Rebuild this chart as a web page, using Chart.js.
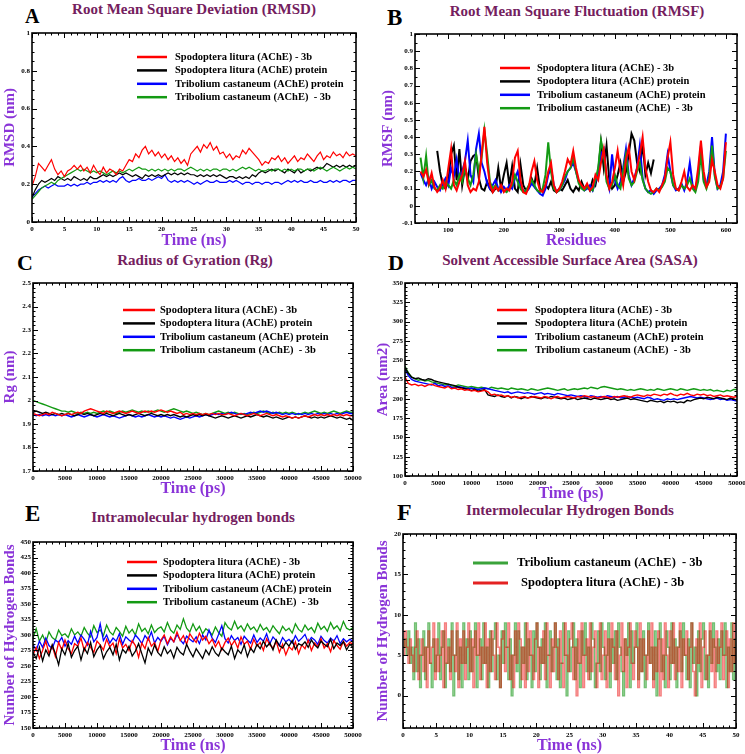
<!DOCTYPE html>
<html lang="en">
<head>
<meta charset="UTF-8" />
<title>MD simulation analysis</title>
<script src="https://cdn.jsdelivr.net/npm/chart.js"></script>
<style>
  body { margin: 0; background: #fff; font-family: "Liberation Serif", serif; }
  #fig { position: relative; width: 745px; height: 754px; overflow: hidden; background: #fff; }
  .letter { position: absolute; font-weight: bold; color: #000; line-height: 1; }
  .title { position: absolute; font-weight: bold; font-size: 15px; color: #74205e; white-space: nowrap; transform: translateX(-50%); line-height: 1; }
</style>
</head>
<body>
<div id="fig">
  <div class="letter" style="left:25px;top:6px;font-size:20px">A</div>
  <div class="title" style="left:194px;top:2px">Root Mean Square Deviation (RMSD)</div>
  <div class="letter" style="left:387px;top:6px;font-size:23px">B</div>
  <div class="title" style="left:577px;top:4px">Root Mean Square Fluctuation (RMSF)</div>
  <div class="letter" style="left:17px;top:252px;font-size:22px">C</div>
  <div class="title" style="left:195px;top:253px">Radius of Gyration (Rg)</div>
  <div class="letter" style="left:388px;top:252px;font-size:22px">D</div>
  <div class="title" style="left:570px;top:253px">Solvent Accessible Surface Area (SASA)</div>
  <div class="letter" style="left:25px;top:502px;font-size:23px">E</div>
  <div class="title" style="left:193px;top:510px">Intramolecular hydrogen bonds</div>
  <div class="letter" style="left:397px;top:500px;font-size:24px">F</div>
  <div class="title" style="left:570px;top:503px">Intermolecular Hydrogen Bonds</div>
</div>

<script>
  // ---- labels ----
  const slLigand = 'Spodoptera litura (AChE) - 3b';
  const slProtein = 'Spodoptera litura (AChE) protein';
  const tcProtein = 'Tribolium castaneum (AChE) protein';
  const tcLigand = 'Tribolium castaneum (AChE)  - 3b';

  // ---- A: RMSD (nm), time 0..50 ns every 0.5 ns ----
  const rmsdStep = 0.5;
  const rmsdSlLigand = [
    0.19,0.24,0.31,0.29,0.27,0.30,0.33,0.28,0.25,0.27,
    0.24,0.27,0.28,0.30,0.28,0.30,0.27,0.29,0.26,0.30,
    0.27,0.25,0.29,0.26,0.28,0.27,0.25,0.28,0.27,0.30,
    0.33,0.32,0.36,0.34,0.38,0.40,0.36,0.38,0.35,0.37,
    0.34,0.36,0.33,0.35,0.32,0.34,0.31,0.33,0.30,0.36,
    0.38,0.40,0.37,0.41,0.39,0.42,0.38,0.40,0.36,0.37,
    0.34,0.36,0.33,0.35,0.34,0.38,0.36,0.39,0.37,0.35,
    0.33,0.30,0.32,0.31,0.34,0.33,0.35,0.32,0.34,0.31,
    0.33,0.35,0.32,0.34,0.33,0.36,0.34,0.32,0.35,0.37,
    0.33,0.35,0.34,0.37,0.35,0.36,0.34,0.37,0.35,0.36,
    0.35];
  const rmsdSlProtein = [
    0.13,0.17,0.20,0.22,0.21,0.22,0.23,0.22,0.24,0.23,
    0.22,0.23,0.22,0.24,0.23,0.22,0.23,0.22,0.24,0.23,
    0.23,0.24,0.25,0.24,0.25,0.24,0.25,0.26,0.25,0.26,
    0.25,0.24,0.25,0.24,0.23,0.25,0.24,0.25,0.24,0.25,
    0.24,0.25,0.26,0.25,0.26,0.25,0.26,0.25,0.26,0.25,
    0.25,0.24,0.25,0.24,0.25,0.24,0.25,0.24,0.25,0.24,
    0.23,0.24,0.24,0.23,0.24,0.23,0.24,0.23,0.25,0.24,
    0.26,0.27,0.26,0.27,0.28,0.27,0.28,0.27,0.26,0.28,
    0.27,0.26,0.28,0.26,0.27,0.28,0.27,0.28,0.29,0.28,
    0.29,0.31,0.30,0.29,0.30,0.29,0.30,0.29,0.30,0.29,
    0.30];
  const rmsdTcProtein = [
    0.13,0.15,0.17,0.18,0.19,0.18,0.19,0.20,0.19,0.19,
    0.19,0.20,0.19,0.20,0.19,0.20,0.20,0.21,0.20,0.21,
    0.21,0.22,0.21,0.22,0.21,0.22,0.21,0.23,0.24,0.22,
    0.21,0.22,0.22,0.23,0.22,0.22,0.23,0.22,0.23,0.24,
    0.23,0.25,0.22,0.21,0.22,0.21,0.22,0.21,0.22,0.21,
    0.20,0.21,0.20,0.21,0.22,0.21,0.21,0.22,0.21,0.21,
    0.21,0.22,0.21,0.22,0.21,0.20,0.21,0.21,0.20,0.21,
    0.21,0.20,0.21,0.21,0.20,0.21,0.21,0.20,0.21,0.22,
    0.21,0.22,0.21,0.22,0.21,0.21,0.22,0.21,0.21,0.22,
    0.21,0.21,0.22,0.21,0.22,0.21,0.22,0.22,0.21,0.22,
    0.22];
  const rmsdTcLigand = [
    0.12,0.14,0.16,0.18,0.19,0.20,0.21,0.20,0.22,0.23,
    0.24,0.25,0.26,0.27,0.28,0.27,0.28,0.27,0.26,0.27,
    0.26,0.27,0.26,0.25,0.26,0.27,0.26,0.27,0.26,0.27,
    0.28,0.27,0.28,0.29,0.28,0.28,0.27,0.28,0.27,0.28,
    0.27,0.28,0.27,0.28,0.27,0.28,0.28,0.27,0.28,0.29,
    0.28,0.27,0.28,0.27,0.28,0.27,0.28,0.28,0.27,0.28,
    0.28,0.27,0.28,0.27,0.28,0.29,0.28,0.29,0.28,0.27,
    0.28,0.27,0.27,0.28,0.27,0.28,0.28,0.27,0.28,0.27,
    0.28,0.27,0.28,0.28,0.27,0.28,0.28,0.27,0.28,0.29,
    0.28,0.27,0.28,0.29,0.28,0.27,0.28,0.29,0.28,0.29,
    0.28];
  const rmsdXTicks = [0,5,10,15,20,25,30,35,40,45,50];
  const rmsdYTicks = [0,0.2,0.4,0.6,0.8,1];

  // ---- B: RMSF (nm) per residue, every 5 residues ----
  const rmsfStep = 5;
  const rmsfStart = 50;
  const rmsfSlProteinStart = 80;
  const rmsfSlLigand = [
    0.20,0.17,0.21,0.13,0.19,0.11,0.08,0.10,0.15,0.10,
    0.22,0.33,0.12,0.09,0.14,0.18,0.26,0.12,0.08,0.10,
    0.09,0.14,0.30,0.46,0.25,0.12,0.08,0.11,0.09,0.12,
    0.08,0.10,0.09,0.14,0.28,0.32,0.15,0.08,0.07,0.11,
    0.20,0.26,0.15,0.09,0.08,0.12,0.20,0.25,0.12,0.08,
    0.10,0.14,0.20,0.27,0.24,0.32,0.22,0.15,0.12,0.10,
    0.13,0.09,0.11,0.18,0.15,0.25,0.33,0.18,0.10,0.14,
    0.22,0.32,0.20,0.12,0.27,0.34,0.20,0.15,0.22,0.30,
    0.40,0.22,0.14,0.09,0.08,0.10,0.08,0.12,0.16,0.28,
    0.37,0.18,0.10,0.09,0.14,0.20,0.11,0.09,0.12,0.10,
    0.22,0.38,0.20,0.11,0.14,0.27,0.20,0.12,0.10,0.16,
    0.37];
  const rmsfSlProtein = [
    0.32,0.20,0.12,0.10,0.14,0.30,0.35,0.15,0.33,0.12,
    0.22,0.15,0.26,0.29,0.30,0.16,0.10,0.09,0.14,0.10,
    0.08,0.10,0.22,0.10,0.18,0.25,0.12,0.23,0.10,0.08,
    0.24,0.12,0.09,0.11,0.16,0.12,0.22,0.10,0.08,0.12,
    0.10,0.14,0.09,0.08,0.10,0.09,0.12,0.15,0.10,0.08,
    0.11,0.09,0.14,0.10,0.12,0.09,0.15,0.12,0.20,0.37,
    0.22,0.35,0.15,0.10,0.12,0.18,0.25,0.14,0.20,0.30,
    0.42,0.38,0.25,0.20,0.37,0.18,0.25,0.19,0.27];
  const rmsfTcProtein = [
    0.19,0.15,0.12,0.16,0.10,0.14,0.11,0.09,0.13,0.16,
    0.12,0.22,0.17,0.27,0.15,0.20,0.26,0.38,0.18,0.14,
    0.33,0.42,0.25,0.20,0.13,0.10,0.12,0.15,0.10,0.08,
    0.11,0.09,0.12,0.10,0.16,0.20,0.12,0.09,0.08,0.10,
    0.13,0.11,0.09,0.07,0.06,0.10,0.18,0.22,0.12,0.08,
    0.09,0.12,0.15,0.20,0.22,0.25,0.20,0.14,0.11,0.09,
    0.10,0.12,0.09,0.14,0.20,0.30,0.33,0.16,0.10,0.30,
    0.15,0.10,0.14,0.22,0.33,0.18,0.12,0.16,0.22,0.35,
    0.16,0.10,0.08,0.09,0.07,0.09,0.10,0.12,0.18,0.30,
    0.20,0.12,0.09,0.10,0.13,0.09,0.14,0.25,0.12,0.09,
    0.18,0.35,0.15,0.12,0.20,0.40,0.18,0.10,0.12,0.20,
    0.42];
  const rmsfTcLigand = [
    0.28,0.16,0.29,0.12,0.15,0.10,0.09,0.12,0.10,0.14,
    0.12,0.10,0.15,0.12,0.18,0.14,0.22,0.16,0.12,0.18,
    0.30,0.20,0.28,0.44,0.30,0.14,0.10,0.12,0.09,0.11,
    0.09,0.08,0.10,0.12,0.18,0.14,0.10,0.08,0.09,0.12,
    0.15,0.12,0.09,0.08,0.10,0.18,0.37,0.20,0.10,0.08,
    0.09,0.12,0.17,0.20,0.22,0.28,0.20,0.13,0.10,0.09,
    0.11,0.10,0.09,0.15,0.22,0.38,0.30,0.14,0.10,0.12,
    0.18,0.12,0.10,0.20,0.30,0.16,0.12,0.14,0.20,0.25,
    0.15,0.10,0.08,0.07,0.08,0.10,0.09,0.11,0.14,0.22,
    0.20,0.12,0.10,0.09,0.12,0.10,0.12,0.16,0.10,0.08,
    0.14,0.30,0.14,0.10,0.16,0.35,0.17,0.10,0.11,0.16,
    0.32];
  const rmsfXTicks = [100,200,300,400,500,600];
  const rmsfYTicks = [-0.1,0,0.1,0.2,0.3,0.4,0.5,0.6,0.7,0.8,0.9,1];

  // ---- C: Rg (nm), time 0..50000 ps every 500 ps ----
  const psStep = 500;
  const rgSlLigand = [
    1.945,1.94,1.935,1.94,1.945,1.94,1.95,1.945,1.94,1.935,
    1.94,1.945,1.94,1.945,1.95,1.945,1.955,1.96,1.965,1.96,
    1.955,1.95,1.945,1.955,1.95,1.945,1.95,1.955,1.95,1.945,
    1.95,1.955,1.95,1.945,1.95,1.955,1.95,1.955,1.95,1.955,
    1.96,1.955,1.95,1.955,1.95,1.945,1.95,1.94,1.945,1.94,
    1.945,1.94,1.945,1.94,1.945,1.94,1.945,1.94,1.945,1.94,
    1.94,1.945,1.94,1.935,1.94,1.945,1.94,1.935,1.94,1.945,
    1.94,1.935,1.94,1.945,1.94,1.935,1.94,1.935,1.93,1.935,
    1.93,1.925,1.93,1.925,1.93,1.935,1.93,1.935,1.94,1.935,
    1.94,1.935,1.94,1.935,1.94,1.935,1.94,1.935,1.94,1.935,
    1.935];
  const rgSlProtein = [
    1.95,1.955,1.95,1.945,1.95,1.945,1.94,1.945,1.94,1.945,
    1.94,1.945,1.94,1.935,1.94,1.945,1.94,1.945,1.94,1.935,
    1.94,1.945,1.94,1.945,1.94,1.935,1.94,1.945,1.94,1.935,
    1.94,1.935,1.94,1.945,1.94,1.935,1.94,1.945,1.94,1.935,
    1.94,1.935,1.94,1.935,1.94,1.935,1.93,1.935,1.93,1.935,
    1.94,1.935,1.94,1.935,1.94,1.935,1.93,1.925,1.93,1.935,
    1.93,1.925,1.93,1.935,1.93,1.925,1.93,1.935,1.93,1.935,
    1.94,1.935,1.93,1.935,1.93,1.925,1.93,1.925,1.92,1.925,
    1.93,1.925,1.93,1.925,1.93,1.935,1.93,1.925,1.93,1.925,
    1.93,1.925,1.93,1.935,1.93,1.925,1.93,1.925,1.92,1.925,
    1.915];
  const rgTcProtein = [
    1.94,1.935,1.94,1.935,1.94,1.935,1.94,1.935,1.94,1.935,
    1.94,1.935,1.93,1.935,1.94,1.935,1.93,1.935,1.94,1.935,
    1.93,1.935,1.94,1.935,1.93,1.935,1.93,1.925,1.93,1.935,
    1.94,1.935,1.93,1.935,1.93,1.935,1.94,1.935,1.93,1.935,
    1.93,1.935,1.93,1.925,1.93,1.925,1.92,1.925,1.93,1.925,
    1.93,1.935,1.93,1.935,1.94,1.935,1.94,1.945,1.94,1.945,
    1.94,1.945,1.95,1.945,1.94,1.945,1.94,1.945,1.95,1.945,
    1.95,1.955,1.95,1.955,1.95,1.945,1.95,1.945,1.94,1.945,
    1.94,1.945,1.94,1.945,1.94,1.945,1.94,1.945,1.94,1.945,
    1.94,1.945,1.94,1.945,1.94,1.945,1.94,1.945,1.95,1.945,
    1.945];
  const rgTcLigand = [
    2.0,1.995,1.99,1.985,1.98,1.975,1.97,1.965,1.96,1.955,
    1.955,1.95,1.955,1.95,1.945,1.95,1.945,1.95,1.945,1.95,
    1.945,1.95,1.955,1.95,1.955,1.95,1.945,1.95,1.955,1.95,
    1.955,1.96,1.955,1.95,1.955,1.95,1.955,1.95,1.955,1.96,
    1.955,1.95,1.955,1.96,1.965,1.96,1.955,1.95,1.955,1.95,
    1.945,1.95,1.945,1.94,1.945,1.94,1.945,1.95,1.955,1.95,
    1.945,1.95,1.945,1.95,1.945,1.94,1.945,1.94,1.945,1.95,
    1.945,1.95,1.955,1.95,1.945,1.95,1.945,1.95,1.945,1.95,
    1.945,1.95,1.945,1.94,1.945,1.95,1.945,1.95,1.955,1.95,
    1.945,1.95,1.945,1.95,1.955,1.95,1.945,1.95,1.955,1.95,
    1.95];
  const psXTicks = [0,5000,10000,15000,20000,25000,30000,35000,40000,45000,50000];
  const rgYTicks = [1.7,1.8,1.9,2,2.1,2.2,2.3,2.4,2.5];

  // ---- D: SASA (nm2), time 0..50000 ps every 500 ps ----
  const sasaSlLigand = [
    228,220,218,219,217,218,216,218,219,217,
    216,215,214,216,213,214,212,213,211,212,
    210,211,209,210,211,209,205,206,204,205,
    203,204,202,203,201,202,203,201,202,203,
    202,201,203,202,200,202,203,201,202,203,
    202,201,203,202,204,203,202,203,201,202,
    203,202,201,203,202,203,204,203,202,204,
    205,204,203,205,204,206,205,204,206,205,
    207,205,204,206,205,207,205,204,206,205,
    206,204,205,203,204,205,203,204,203,202,
    203];
  const sasaSlProtein = [
    240,233,228,226,227,225,224,226,225,223,
    222,221,220,219,218,217,215,214,213,212,
    211,212,210,211,212,205,204,203,205,203,
    202,204,201,203,202,200,202,201,203,202,
    201,200,202,201,203,202,201,200,201,199,
    200,201,199,200,201,200,199,201,200,199,
    200,201,199,200,198,199,200,201,199,200,
    199,198,197,196,198,197,196,197,195,197,
    196,197,195,196,195,198,197,199,200,201,
    200,202,201,200,202,201,200,199,201,200,
    198];
  const sasaTcProtein = [
    238,230,225,223,222,221,220,219,218,220,
    217,218,216,217,215,214,216,215,214,213,
    214,213,212,213,214,213,212,211,210,209,
    208,209,207,208,209,208,207,208,207,206,
    207,208,206,207,206,205,207,206,205,204,
    205,204,203,204,203,202,204,203,202,203,
    202,204,203,202,203,201,202,203,202,201,
    202,201,200,202,201,199,200,199,198,200,
    199,200,199,200,201,202,203,202,201,202,
    201,200,199,200,201,199,200,198,199,198,
    197];
  const sasaTcLigand = [
    242,234,228,226,224,225,223,224,222,221,
    220,219,218,219,217,216,218,217,216,215,
    216,215,214,215,214,213,215,214,213,214,
    213,212,214,213,212,213,212,211,213,212,
    211,212,213,214,213,212,211,212,213,211,
    212,213,212,213,214,213,215,214,213,215,
    216,215,214,213,212,213,212,211,212,211,
    212,213,212,211,212,211,213,212,211,212,
    213,212,211,213,212,211,212,213,212,211,
    212,211,212,210,211,210,209,211,210,212,
    212];
  const sasaYTicks = [100,125,150,175,200,225,250,275,300,325,350];

  // ---- E: intramolecular H-bonds, time 0..50000 every 500 ----
  const hbSlLigand = [
    268,280,262,275,290,270,283,265,288,276,
    292,278,270,286,282,295,275,288,280,272,
    290,284,276,293,281,287,270,294,279,285,
    275,291,283,264,287,278,296,282,288,274,
    292,300,286,297,289,305,291,299,285,302,
    294,288,303,292,298,286,293,281,290,276,
    288,295,283,291,279,297,285,290,277,293,
    282,288,275,294,284,279,290,272,285,268,
    281,276,289,270,284,278,292,275,287,281,
    294,279,286,273,291,283,277,290,282,288,
    285];
  const hbSlProtein = [
    272,262,280,258,276,266,284,270,252,278,
    268,286,264,275,282,260,279,270,288,265,
    276,283,262,273,280,268,285,260,277,271,
    282,266,274,286,270,255,279,268,284,272,
    266,281,270,276,263,280,272,268,285,274,
    265,278,270,262,276,268,281,271,266,279,
    273,268,282,262,276,270,284,265,279,272,
    285,278,290,281,287,276,292,283,279,288,
    282,291,277,286,283,289,280,292,284,279,
    290,285,281,293,278,287,283,289,276,285,
    280];
  const hbTcProtein = [
    285,275,290,280,295,283,278,292,288,296,
    282,291,285,298,287,300,293,284,306,289,
    296,318,291,300,287,295,290,302,285,297,
    292,288,300,294,286,299,292,305,287,296,
    290,298,284,295,289,301,292,286,298,293,
    289,297,286,300,292,308,295,288,301,315,
    294,287,299,291,296,285,298,292,287,300,
    288,295,290,302,286,297,291,283,296,289,
    293,287,299,290,295,301,288,296,292,285,
    298,291,287,295,290,299,286,294,289,293,
    290];
  const hbTcLigand = [
    295,310,290,300,288,305,296,292,308,299,
    302,296,310,300,305,298,312,303,297,315,
    304,308,299,316,305,300,312,306,298,314,
    303,309,300,318,306,311,302,316,304,310,
    313,305,320,308,303,316,309,326,311,305,
    318,307,314,302,310,306,300,313,304,298,
    320,312,308,322,310,315,306,318,309,313,
    305,317,308,312,304,315,308,302,314,307,
    311,303,318,309,305,316,308,312,304,319,
    309,314,306,320,310,315,307,322,311,308,
    312];
  const hbYTicks = [150,175,200,225,250,275,300,325,350,375,400,425,450];

  // ---- F: intermolecular H-bonds, time 0..50 ns every 0.25 ns ----
  const interStep = 0.25;
  const interTcLigand = [
    6,7,5,8,4,6,2,9,3,7,1,5,8,2,6,9,4,1,7,3,
    5,9,2,6,8,1,4,7,3,9,0,5,8,2,6,1,9,4,7,2,
    8,3,6,9,1,5,7,2,9,4,6,1,8,3,7,9,2,5,1,8,
    4,9,6,2,7,0,5,9,3,8,1,6,4,9,2,7,5,1,8,3,
    9,6,2,7,4,9,1,5,8,3,6,9,2,7,1,4,9,5,0,8,
    3,6,9,2,7,4,1,8,5,9,3,6,2,9,7,1,4,8,3,9,
    6,2,5,9,1,7,4,8,2,9,6,3,0,7,5,9,1,8,4,6,
    9,2,7,3,8,1,5,9,4,6,2,8,0,7,9,3,5,1,8,6,
    2,9,4,7,1,6,8,3,9,5,2,7,1,9,4,6,0,8,3,7,
    9,2,5,1,8,4,9,6,3,7,2,8,5,9,1,6,3,9,2,7,
    4];
  const interSlLigand = [
    5,8,6,4,7,5,3,6,8,2,5,7,3,6,1,8,4,6,9,2,
    7,3,5,8,1,9,4,6,2,8,5,3,9,1,7,4,8,2,6,9,
    3,7,1,8,5,9,2,6,4,9,1,7,3,8,5,2,9,6,1,7,
    8,3,6,9,2,5,1,8,4,9,7,2,6,1,9,3,8,5,2,7,
    9,1,6,4,8,2,9,5,1,7,3,9,6,2,8,4,1,9,5,3,
    7,9,2,6,0,8,4,9,1,5,7,2,9,3,6,8,1,4,9,2,
    5,8,1,7,3,9,6,2,8,0,5,9,3,7,1,6,9,4,2,8,
    6,1,9,3,7,5,2,8,4,9,1,6,3,8,0,7,2,9,5,1,
    8,4,9,2,6,3,9,1,7,5,8,2,6,9,3,0,7,4,9,1,
    6,8,2,5,9,3,7,1,8,4,6,9,2,5,8,1,7,3,9,4,
    6];
  const interYTicks = [0,5,10,15,20];

  // ---- drawing ----
  const FONT = '"Liberation Serif", "Times New Roman", serif';
  const AXIS_COLOR = '#8a34d8';
  const RED = '#ff0000', BLACK = '#000000', BLUE = '#0000ff', GREEN = '#139a13';

  function series(start, step, values) {
    return values.map((v, i) => ({ x: start + i * step, y: v }));
  }

  function fourSets(start, step, a, b, c, d, order, bStart) {
    return [
      { label: slLigand, data: series(start, step, a), borderColor: RED, order: order[0] },
      { label: slProtein, data: series(bStart === undefined ? start : bStart, step, b), borderColor: BLACK, order: order[1] },
      { label: tcProtein, data: series(start, step, c), borderColor: BLUE, order: order[2] },
      { label: tcLigand, data: series(start, step, d), borderColor: GREEN, order: order[3] }
    ];
  }

  // xmgrace-like frame, inward ticks on all sides, and a legend inside the plot
  const gracePlugin = {
    id: 'grace',
    afterDatasetsDraw(chart, args, opts) {
      const ctx = chart.ctx, a = chart.chartArea;
      const xs = chart.scales.x, ys = chart.scales.y;
      ctx.save();
      ctx.strokeStyle = '#000';
      ctx.lineWidth = 1;
      const seg = (x1, y1, x2, y2) => { ctx.beginPath(); ctx.moveTo(x1, y1); ctx.lineTo(x2, y2); ctx.stroke(); };
      const xTick = (v, len) => {
        const p = Math.round(xs.getPixelForValue(v)) + 0.5;
        seg(p, a.bottom, p, a.bottom - len); seg(p, a.top, p, a.top + len);
      };
      const yTick = (v, len) => {
        const p = Math.round(ys.getPixelForValue(v)) + 0.5;
        seg(a.left, p, a.left + len, p); seg(a.right, p, a.right - len, p);
      };
      for (let k = Math.ceil(xs.min / opts.xMinor - 1e-9); k * opts.xMinor <= xs.max + 1e-9; k++) xTick(k * opts.xMinor, 2.5);
      for (let k = Math.ceil(ys.min / opts.yMinor - 1e-9); k * opts.yMinor <= ys.max + 1e-9; k++) yTick(k * opts.yMinor, 2.5);
      xs.ticks.forEach(t => xTick(t.value, 5));
      ys.ticks.forEach(t => yTick(t.value, 5));
      ctx.lineWidth = 1.6;
      ctx.strokeRect(a.left, a.top, a.right - a.left, a.bottom - a.top);

      const lg = opts.legend;
      ctx.font = 'bold ' + lg.size + 'px ' + FONT;
      ctx.textBaseline = 'middle';
      ctx.fillStyle = '#000';
      lg.order.forEach((di, row) => {
        const ds = chart.data.datasets[di];
        const y = a.top + lg.dy + row * lg.rowH;
        const x = a.left + lg.dx;
        ctx.strokeStyle = ds.legendColor || ds.borderColor;
        ctx.lineWidth = lg.lineWidth;
        seg(x, y, x + lg.lineLen, y);
        ctx.fillText(ds.label, x + lg.lineLen + lg.textGap + (lg.shift ? lg.shift[row] : 0), y);
      });
      ctx.restore();
    }
  };

  function buildChart(p) {
    const [bl, bt, br, bb] = p.box;
    const [pl, pt, pr, pb] = p.plot;
    const canvas = document.createElement('canvas');
    canvas.width = br - bl;
    canvas.height = bb - bt;
    canvas.style.cssText = 'position:absolute;left:' + bl + 'px;top:' + bt + 'px;';
    document.getElementById('fig').appendChild(canvas);
    const tickFont = { family: FONT, size: 7, weight: 'bold' };
    const titleFont = { family: FONT, size: 16, weight: 'bold' };
    new Chart(canvas, {
      type: 'line',
      data: { datasets: p.datasets },
      options: {
        responsive: false,
        animation: false,
        devicePixelRatio: 1,
        layout: { padding: { top: pt - bt, right: br - pr, left: 0, bottom: 0 } },
        plugins: { legend: { display: false }, tooltip: { enabled: false }, grace: p.grace },
        elements: { point: { radius: 0 }, line: { tension: 0, borderWidth: p.lineWidth, stepped: !!p.stepped } },
        scales: {
          x: {
            type: 'linear', min: p.xMin, max: p.xMax,
            afterBuildTicks: s => { s.ticks = p.xTicks.map(v => ({ value: v })); },
            afterFit: s => { s.height = bb - pb; },
            grid: { display: false, drawTicks: false },
            border: { display: false },
            ticks: { font: tickFont, color: '#000', padding: 3, maxRotation: 0, autoSkip: false, callback: v => String(v) },
            title: { display: true, text: p.xTitle, color: AXIS_COLOR, font: titleFont, padding: 0 }
          },
          y: {
            type: 'linear', min: p.yMin, max: p.yMax,
            afterBuildTicks: s => { s.ticks = p.yTicks.map(v => ({ value: v })); },
            afterFit: s => { s.width = pl - bl; },
            grid: { display: false, drawTicks: false },
            border: { display: false },
            ticks: { font: tickFont, color: '#000', padding: 2, autoSkip: false, callback: v => String(v) },
            title: { display: true, text: p.yTitle, color: AXIS_COLOR, font: { family: FONT, size: 15, weight: 'bold' }, padding: 0 }
          }
        }
      },
      plugins: [gracePlugin]
    });
  }

  const legend4 = (dx, dy, lineLen, textGap) =>
    ({ dx: dx, dy: dy, rowH: 13.4, lineLen: lineLen, textGap: textGap, size: 10.5, lineWidth: 2.5, order: [0, 1, 2, 3] });

  // A
  buildChart({
    box: [1, 26, 368, 250], plot: [32, 33, 356, 222],
    datasets: fourSets(0, rmsdStep, rmsdSlLigand, rmsdSlProtein, rmsdTcProtein, rmsdTcLigand, [0, 2, 3, 1]),
    xMin: 0, xMax: 50, yMin: 0, yMax: 1, xTicks: rmsdXTicks, yTicks: rmsdYTicks,
    xTitle: 'Time (ns)', yTitle: 'RMSD (nm)', lineWidth: 1.2,
    grace: { xMinor: 1, yMinor: 0.05, legend: legend4(105, 24, 30, 8) }
  });

  // B
  buildChart({
    box: [379, 27, 749, 250], plot: [415, 34, 737, 223],
    datasets: fourSets(rmsfStart, rmsfStep, rmsfSlLigand, rmsfSlProtein, rmsfTcProtein, rmsfTcLigand, [0, 3, 2, 1], rmsfSlProteinStart),
    xMin: 40, xMax: 620, yMin: -0.1, yMax: 1, xTicks: rmsfXTicks, yTicks: rmsfYTicks,
    xTitle: 'Residues', yTitle: 'RMSF (nm)', lineWidth: 2,
    grace: { xMinor: 20, yMinor: 0.05, legend: legend4(85, 34, 30, 7) }
  });

  // C
  buildChart({
    box: [1, 276, 366, 498], plot: [33, 283, 353, 471],
    datasets: fourSets(0, psStep, rgSlLigand, rgSlProtein, rgTcProtein, rgTcLigand, [0, 1, 2, 3]),
    xMin: 0, xMax: 50000, yMin: 1.7, yMax: 2.5, xTicks: psXTicks, yTicks: rgYTicks,
    xTitle: 'Time (ps)', yTitle: 'Rg (nm)', lineWidth: 1.4,
    grace: { xMinor: 1000, yMinor: 0.02, legend: legend4(90, 27, 32, 5) }
  });

  // D
  buildChart({
    box: [374, 276, 749, 503], plot: [405, 283, 737, 476],
    datasets: fourSets(0, psStep, sasaSlLigand, sasaSlProtein, sasaTcProtein, sasaTcLigand, [0, 1, 2, 3]),
    xMin: 0, xMax: 50000, yMin: 100, yMax: 350, xTicks: psXTicks, yTicks: sasaYTicks,
    xTitle: 'Time (ps)', yTitle: 'Area (nm2)', lineWidth: 1.4,
    grace: { xMinor: 1000, yMinor: 5, legend: legend4(92, 27, 30, 8) }
  });

  // E
  buildChart({
    box: [1, 535, 366, 755], plot: [33, 542, 353, 728],
    datasets: fourSets(0, psStep, hbSlLigand, hbSlProtein, hbTcProtein, hbTcLigand, [1, 0, 2, 3]),
    xMin: 0, xMax: 50000, yMin: 150, yMax: 450, xTicks: psXTicks, yTicks: hbYTicks,
    xTitle: 'Time (ns)', yTitle: 'Number of Hydrogen Bonds', lineWidth: 1.3,
    grace: { xMinor: 1000, yMinor: 5, legend: legend4(94, 20, 30, 6) }
  });

  // F
  buildChart({
    box: [374, 527, 749, 755], plot: [403, 534, 736, 728],
    datasets: [
      { label: tcLigand, data: series(0, interStep, interTcLigand), borderColor: 'rgba(0,140,0,0.55)', legendColor: '#3aa33a', order: 1 },
      { label: slLigand, data: series(0, interStep, interSlLigand), borderColor: 'rgba(235,0,0,0.5)', legendColor: '#e42222', order: 0 }
    ],
    xMin: 0, xMax: 50, yMin: -4, yMax: 20, xTicks: rmsdXTicks, yTicks: interYTicks,
    xTitle: 'Time (ns)', yTitle: 'Number of Hydrogen Bonds', lineWidth: 1.5, stepped: true,
    grace: { xMinor: 1, yMinor: 1, legend: { dx: 70, dy: 29, rowH: 20, lineLen: 35, textGap: 9, size: 12.5, lineWidth: 3, order: [0, 1], shift: [0, 4] } }
  });
</script>
</body>
</html>
